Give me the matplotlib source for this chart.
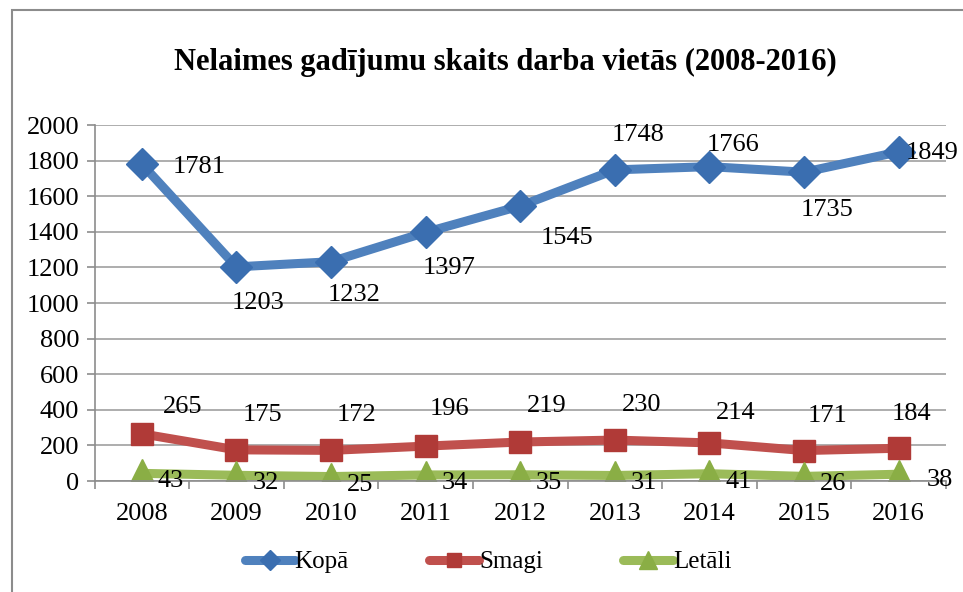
import matplotlib.pyplot as plt
import matplotlib.patches as mpatches

years = ['2008', '2009', '2010', '2011', '2012', '2013', '2014', '2015', '2016']
kopa = [1781, 1203, 1232, 1397, 1545, 1748, 1766, 1735, 1849]
smagi = [265, 175, 172, 196, 219, 230, 214, 171, 184]
letali = [43, 32, 25, 34, 35, 31, 41, 26, 38]

# label offsets in pixels (dx, dy) relative to each point
kopa_off = [(57, -3), (22, -36), (23, -33), (23, -36), (47, -32), (23, 35), (24, 22), (23, -38), (33, -1)]
smagi_off = [(41, 27), (26, 35), (26, 35), (24, 37), (26, 36), (27, 35), (26, 30), (23, 35), (13, 34)]
letali_off = [(29, -8), (29, -8), (29, -8), (29, -8), (29, -8), (29, -8), (29, -8), (29, -8), (41, -6)]

plt.rcParams['font.family'] = ['Liberation Serif', 'DejaVu Serif']

fig = plt.figure(figsize=(9.63, 5.92), dpi=100)
ax = fig.add_axes([94.5 / 963, 1 - 481 / 592, (946 - 94.5) / 963, (481 - 125) / 592])

fig.patches.append(mpatches.Rectangle((12 / 963, -0.1), 1.2, 1 - 10 / 592 + 0.1,
                                      transform=fig.transFigure, fill=False,
                                      edgecolor='#8c8c8c', linewidth=1.5))

x = list(range(len(years)))
series = [
    (kopa, 'Kopā', '#4F81BD', '#3a6eb0', 'D', 16, kopa_off),
    (smagi, 'Smagi', '#C0504D', '#b03a37', 's', 16, smagi_off),
    (letali, 'Letāli', '#9BBB59', '#8aae45', '^', 20, letali_off),
]
for vals, name, col, mcol, mk, ms, offs in series:
    ax.plot(x, vals, color=col, linewidth=6.5, marker=mk, markersize=ms,
            markerfacecolor=mcol, markeredgecolor=mcol, label=name,
            solid_capstyle='round')
    for xi, v, (dx, dy) in zip(x, vals, offs):
        ax.annotate(str(v), (xi, v), xytext=(dx, dy), textcoords='offset pixels',
                    ha='center', va='center', fontsize=19)

ax.set_xlim(-0.5, len(years) - 0.5)
ax.set_ylim(0, 2000)
ax.set_yticks(range(0, 2001, 200))
ax.set_xticks(x)
ax.set_xticklabels(years)
ax.set_xticks([i - 0.5 for i in range(len(years) + 1)], minor=True)
ax.tick_params(axis='x', which='major', length=0, pad=16, labelsize=19)
ax.tick_params(axis='x', which='minor', length=6, color='#8c8c8c', width=1.2)
ax.tick_params(axis='y', length=6, color='#8c8c8c', width=1.2, labelsize=19, pad=5)
ax.yaxis.grid(True, color='#a0a0a0', linewidth=1.2)
ax.set_axisbelow(True)
for s in ['top', 'right']:
    ax.spines[s].set_visible(False)
for s in ['left', 'bottom']:
    ax.spines[s].set_color('#8c8c8c')
    ax.spines[s].set_linewidth(1.2)

fig.text(505 / 963, 1 - 62 / 592, 'Nelaimes gadījumu skaits darba vietās (2008-2016)',
         ha='center', va='center', fontsize=22, fontweight='bold')

leg = fig.legend(loc='center', bbox_to_anchor=(488 / 963, 1 - 562 / 592), ncol=3,
                 frameon=False, fontsize=18, handlelength=2.0, columnspacing=3.2,
                 handletextpad=0.0, markerscale=0.65)

fig.savefig('out.png', dpi=100)
